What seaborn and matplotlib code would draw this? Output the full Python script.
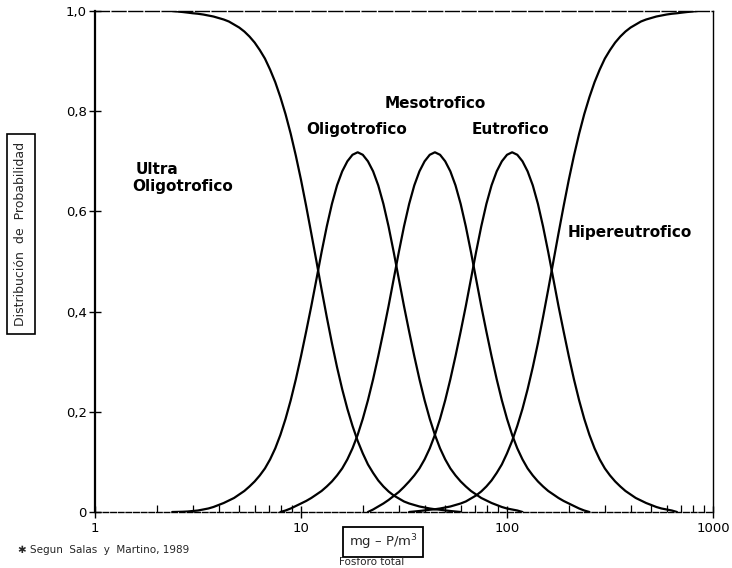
import matplotlib
matplotlib.use("Agg")
import matplotlib.pyplot as plt
from matplotlib.ticker import FixedLocator, NullFormatter, LogLocator
import pandas as pd
import seaborn as sns

# Total phosphorus grid (mg P/m3) at which the probabilities were read
fosforo = [2.371, 2.512, 2.661, 2.818, 2.985, 3.162, 3.350, 3.548, 3.758, 3.981, 4.217,
           4.467, 4.732, 5.012, 5.309, 5.623, 5.957, 6.310, 6.683, 7.079, 7.499, 7.943,
           8.414, 8.913, 9.441, 10.00, 10.59, 11.22, 11.89, 12.59, 13.34, 14.13, 14.96,
           15.85, 16.79, 17.78, 18.84, 19.95, 21.13, 22.39, 23.71, 25.12, 26.61, 28.18,
           29.85, 31.62, 33.50, 35.48, 37.58, 39.81, 42.17, 44.67, 47.32, 50.12, 53.09,
           56.23, 59.57, 63.10, 66.83, 70.79, 74.99, 79.43, 84.14, 89.13, 94.41, 100.0,
           105.9, 112.2, 118.9, 125.9, 133.4, 141.3, 149.6, 158.5, 167.9, 177.8, 188.4,
           199.5, 211.3, 223.9, 237.1, 251.2, 266.1, 281.8, 298.5, 316.2, 335.0, 354.8,
           375.8, 398.1, 421.7, 446.7, 473.2, 501.2, 530.9, 562.3, 595.7, 631.0, 668.3,
           707.9, 749.9, 794.3, 841.4]

# Probability of each trophic state, starting at the given phosphorus value
ultra_desde = 2.371
ultra_y = [1.0, 0.999, 0.998, 0.9968, 0.9955, 0.9945, 0.993, 0.991, 0.989, 0.986, 0.983,
           0.979, 0.973, 0.967, 0.959, 0.949, 0.937, 0.922, 0.905, 0.883, 0.858, 0.828,
           0.794, 0.755, 0.711, 0.663, 0.611, 0.556, 0.5, 0.444, 0.389, 0.337, 0.289,
           0.245, 0.206, 0.172, 0.142, 0.117, 0.095, 0.078, 0.063, 0.051, 0.041, 0.033,
           0.027, 0.021, 0.017, 0.014, 0.011, 0.009, 0.007, 0.0055, 0.0045, 0.0032, 0.002,
           0.001, 0.0]

oligo_desde = 2.371
oligo_y = [0.0, 0.0002, 0.0005, 0.001, 0.002, 0.003, 0.005, 0.007, 0.010, 0.014, 0.018,
           0.023, 0.028, 0.035, 0.042, 0.051, 0.061, 0.073, 0.087, 0.105, 0.127, 0.154,
           0.186, 0.223, 0.265, 0.311, 0.360, 0.411, 0.465, 0.519, 0.570, 0.615, 0.652,
           0.680, 0.700, 0.713, 0.718, 0.713, 0.700, 0.680, 0.652, 0.615, 0.570, 0.519,
           0.465, 0.411, 0.360, 0.311, 0.265, 0.223, 0.186, 0.154, 0.127, 0.105, 0.087,
           0.073, 0.061, 0.051, 0.042, 0.035, 0.028, 0.023, 0.018, 0.014, 0.010, 0.007,
           0.005, 0.003, 0.0]

meso_desde = 7.943
meso_y = [0.0, 0.003, 0.007, 0.012, 0.017, 0.022, 0.028, 0.035, 0.042, 0.051, 0.061,
          0.073, 0.087, 0.105, 0.127, 0.154, 0.186, 0.223, 0.265, 0.311, 0.360, 0.411,
          0.465, 0.519, 0.570, 0.615, 0.652, 0.680, 0.700, 0.713, 0.718, 0.713, 0.700,
          0.680, 0.652, 0.615, 0.570, 0.519, 0.465, 0.411, 0.360, 0.311, 0.265, 0.223,
          0.186, 0.154, 0.127, 0.105, 0.087, 0.073, 0.061, 0.051, 0.042, 0.035, 0.028,
          0.022, 0.017, 0.012, 0.007, 0.003, 0.0]

eutro_desde = 21.13
eutro_y = [0.0, 0.005, 0.011, 0.017, 0.024, 0.032, 0.040, 0.050, 0.061, 0.073, 0.087,
           0.105, 0.127, 0.154, 0.186, 0.223, 0.265, 0.311, 0.360, 0.411, 0.465, 0.519,
           0.570, 0.615, 0.652, 0.680, 0.700, 0.713, 0.718, 0.713, 0.700, 0.680, 0.652,
           0.615, 0.570, 0.519, 0.465, 0.411, 0.360, 0.311, 0.265, 0.223, 0.186, 0.154,
           0.127, 0.105, 0.087, 0.073, 0.061, 0.051, 0.042, 0.035, 0.028, 0.023, 0.018,
           0.014, 0.010, 0.007, 0.005, 0.003, 0.0]

hiper_desde = 33.50
hiper_y = [0.0, 0.001, 0.002, 0.0032, 0.0045, 0.0055, 0.007, 0.009, 0.011, 0.014, 0.017,
           0.021, 0.027, 0.033, 0.041, 0.051, 0.063, 0.078, 0.095, 0.117, 0.142, 0.172,
           0.206, 0.245, 0.289, 0.337, 0.389, 0.444, 0.5, 0.556, 0.611, 0.663, 0.711,
           0.755, 0.794, 0.828, 0.858, 0.883, 0.905, 0.922, 0.937, 0.949, 0.959, 0.967,
           0.973, 0.979, 0.983, 0.986, 0.989, 0.991, 0.993, 0.9945, 0.9955, 0.9968, 0.998,
           0.999, 1.0]

estados = ["Ultra Oligotrofico", "Oligotrofico", "Mesotrofico", "Eutrofico", "Hipereutrofico"]
x_ticks = [1, 10, 100, 1000]
x_tick_labels = ["1", "10", "100", "1000"]
y_ticks = [0, 0.2, 0.4, 0.6, 0.8, 1.0]
y_tick_labels = ["0", "0,2", "0,4", "0,6", "0,8", "1,0"]

curvas = [(ultra_desde, ultra_y), (oligo_desde, oligo_y), (meso_desde, meso_y),
          (eutro_desde, eutro_y), (hiper_desde, hiper_y)]
frames = []
for nombre, (desde, ys) in zip(estados, curvas):
    i0 = fosforo.index(desde)
    frames.append(pd.DataFrame({"fosforo": fosforo[i0:i0 + len(ys)], "prob": ys,
                                "estado": nombre}))
df = pd.concat(frames, ignore_index=True)

sns.set_theme(style="white")
plt.rcParams["font.family"] = ["DejaVu Sans"]

fig = plt.figure(figsize=(7.32, 5.68), dpi=100)
ax = fig.add_axes([95 / 732, 1 - 512 / 568, (713 - 95) / 732, (512 - 11) / 568])

sns.lineplot(data=df, x="fosforo", y="prob", hue="estado", units="estado",
             estimator=None, sort=False, palette={e: "black" for e in estados},
             linewidth=1.6, legend=False, ax=ax)

ax.set_xscale("log")
ax.set_xlim(1, 1000)
ax.set_ylim(0, 1.0)
ax.set_xlabel("")
ax.set_ylabel("")

ax.xaxis.set_major_locator(FixedLocator(x_ticks))
ax.set_xticklabels(x_tick_labels)
ax.xaxis.set_minor_locator(LogLocator(base=10, subs=range(2, 10)))
ax.xaxis.set_minor_formatter(NullFormatter())
ax.set_yticks(y_ticks)
ax.set_yticklabels(y_tick_labels)

ax.tick_params(axis="x", which="major", direction="inout", length=9, width=1.0,
               colors="black", labelsize=9.5, pad=3, bottom=True)
ax.tick_params(axis="x", which="minor", direction="in", length=5, width=0.9,
               colors="black", bottom=True)
ax.tick_params(axis="y", which="major", direction="inout", length=8, width=1.0,
               colors="black", labelsize=9.5, pad=2, left=True)

for side, spine in ax.spines.items():
    spine.set_visible(True)
    spine.set_color("black")
ax.spines["left"].set_linewidth(1.6)
ax.spines["right"].set_linewidth(1.0)
ax.spines["top"].set_linewidth(1.0)
ax.spines["top"].set_linestyle((0, (10, 2)))
ax.spines["bottom"].set_linewidth(1.0)
ax.spines["bottom"].set_linestyle((0, (4, 1.5)))

lab = dict(fontsize=11, fontweight="bold", color="black")
ax.text(1.57, 0.684, "Ultra", ha="left", va="center", **lab)
ax.text(1.52, 0.649, "Oligotrofico", ha="left", va="center", **lab)
ax.text(18.7, 0.764, "Oligotrofico", ha="center", va="center", **lab)
ax.text(44.9, 0.816, "Mesotrofico", ha="center", va="center", **lab)
ax.text(103.5, 0.764, "Eutrofico", ha="center", va="center", **lab)
ax.text(196, 0.557, "Hipereutrofico", ha="left", va="center", **lab)

fig.text(21 / 732, 1 - 234 / 568, "Distribución  de  Probabilidad", rotation=90,
         ha="center", va="center", fontsize=9,
         bbox=dict(boxstyle="square,pad=0.6", fc="white", ec="black", lw=1.2))
fig.text(383 / 732, 1 - 542 / 568, "mg – P/m$^3$", ha="center", va="center",
         fontsize=9.5, bbox=dict(boxstyle="square,pad=0.4", fc="white", ec="black", lw=1.3))
fig.text(372 / 732, 1 - 562 / 568, "Fósforo total", ha="center", va="center", fontsize=7.5)
fig.text(18 / 732, 1 - 550 / 568, "✱ Segun  Salas  y  Martino, 1989", ha="left",
         va="center", fontsize=7.5)

fig.savefig("out.png", dpi=100, facecolor="white")
